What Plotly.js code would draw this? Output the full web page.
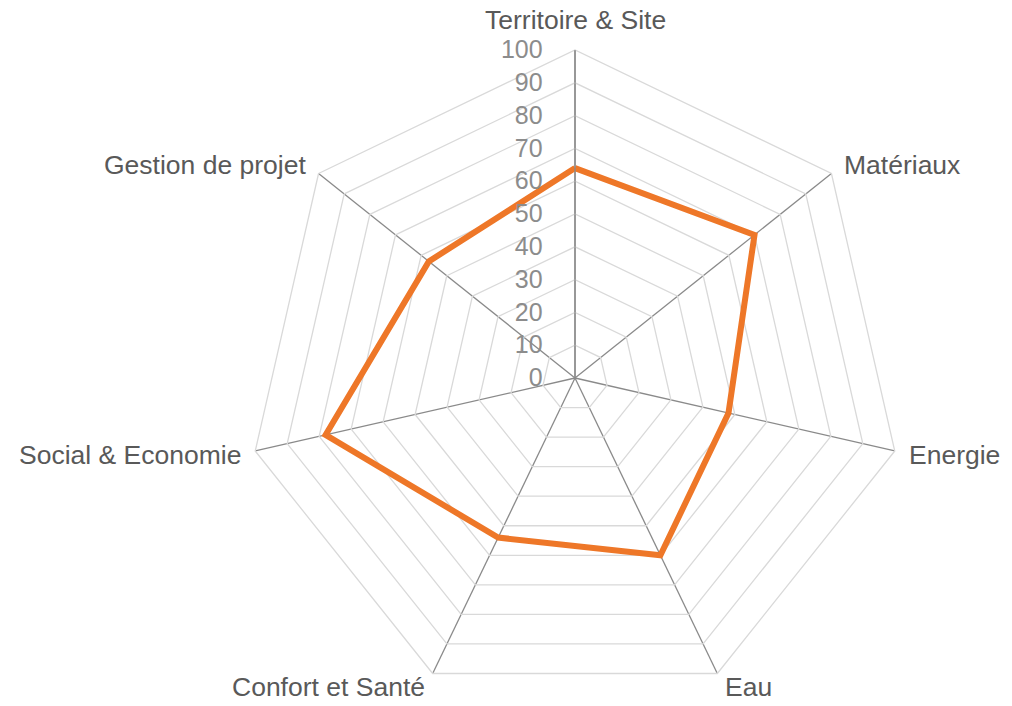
<!DOCTYPE html>
<html>
<head>
<meta charset="utf-8">
<script src="https://cdn.plot.ly/plotly-3.0.1.min.js"></script>
<style>html,body{margin:0;padding:0;background:#fff;}#chart{width:1012px;height:706px;}</style>
</head>
<body>
<div id="chart"></div>
<script>
const categories = ["Territoire & Site", "Matériaux", "Energie", "Eau", "Confort et Santé", "Social & Economie", "Gestion de projet"];
const values = [64, 70, 48, 60, 54, 78, 57];
const tickValues = [0, 10, 20, 30, 40, 50, 60, 70, 80, 90, 100];
const tickLabels = ["0", "10", "20", "30", "40", "50", "60", "70", "80", "90", "100"];

const W = 1012, H = 706;
const CX = 575, CY = 378, R = 328;

const trace = {
  type: "scatterpolar",
  r: values.concat([values[0]]),
  theta: categories.concat([categories[0]]),
  mode: "lines",
  line: {color: "#EE7728", width: 6, shape: "linear"},
  hoverinfo: "skip",
  showlegend: false
};

// category labels placed just outside each spoke end
const annotations = categories.map(function (c, i) {
  const a = 2 * Math.PI * i / categories.length;
  const s = Math.sin(a), co = Math.cos(a);
  const vx = CX + R * s, vy = CY - R * co;
  let px, py, xa;
  if (Math.abs(s) < 1e-6) { px = vx; py = vy - 30; xa = "center"; }
  else { px = vx + 13 * s; py = vy - 14 * co + 0.5; xa = s > 0 ? "left" : "right"; }
  return {
    text: c, xref: "paper", yref: "paper",
    x: px / W, y: 1 - py / H, xanchor: xa, yanchor: "middle",
    showarrow: false,
    font: {size: 26.5, color: "#595959", family: "Liberation Sans, Arial, sans-serif"}
  };
});

const layout = {
  width: W, height: H,
  margin: {l: 0, r: 0, t: 0, b: 0},
  paper_bgcolor: "#ffffff",
  font: {family: "Liberation Sans, Arial, sans-serif", color: "#595959"},
  showlegend: false,
  annotations: annotations,
  polar: {
    domain: {x: [(CX - R) / W, (CX + R) / W], y: [1 - (CY + R) / H, 1 - (CY - R) / H]},
    gridshape: "linear",
    bgcolor: "rgba(0,0,0,0)",
    angularaxis: {
      direction: "clockwise",
      rotation: 90,
      showline: true,
      linecolor: "#d9d9d9",
      linewidth: 1.3,
      gridcolor: "#8a8a8a",
      gridwidth: 1.3,
      ticks: "",
      showticklabels: false
    },
    radialaxis: {
      range: [0, 100],
      angle: 90,
      side: "counterclockwise",
      tickmode: "array",
      tickvals: tickValues,
      ticktext: tickLabels,
      tickangle: 90,
      showline: true,
      linecolor: "#8a8a8a",
      linewidth: 1.3,
      gridcolor: "#d9d9d9",
      gridwidth: 1.3,
      ticks: "outside",
      ticklen: 23,
      tickcolor: "rgba(0,0,0,0)",
      tickfont: {size: 25, color: "#8c8c8c", family: "Liberation Sans, Arial, sans-serif"}
    }
  }
};

Plotly.newPlot("chart", [trace], layout, {displayModeBar: false, staticPlot: true});
</script>
</body>
</html>
